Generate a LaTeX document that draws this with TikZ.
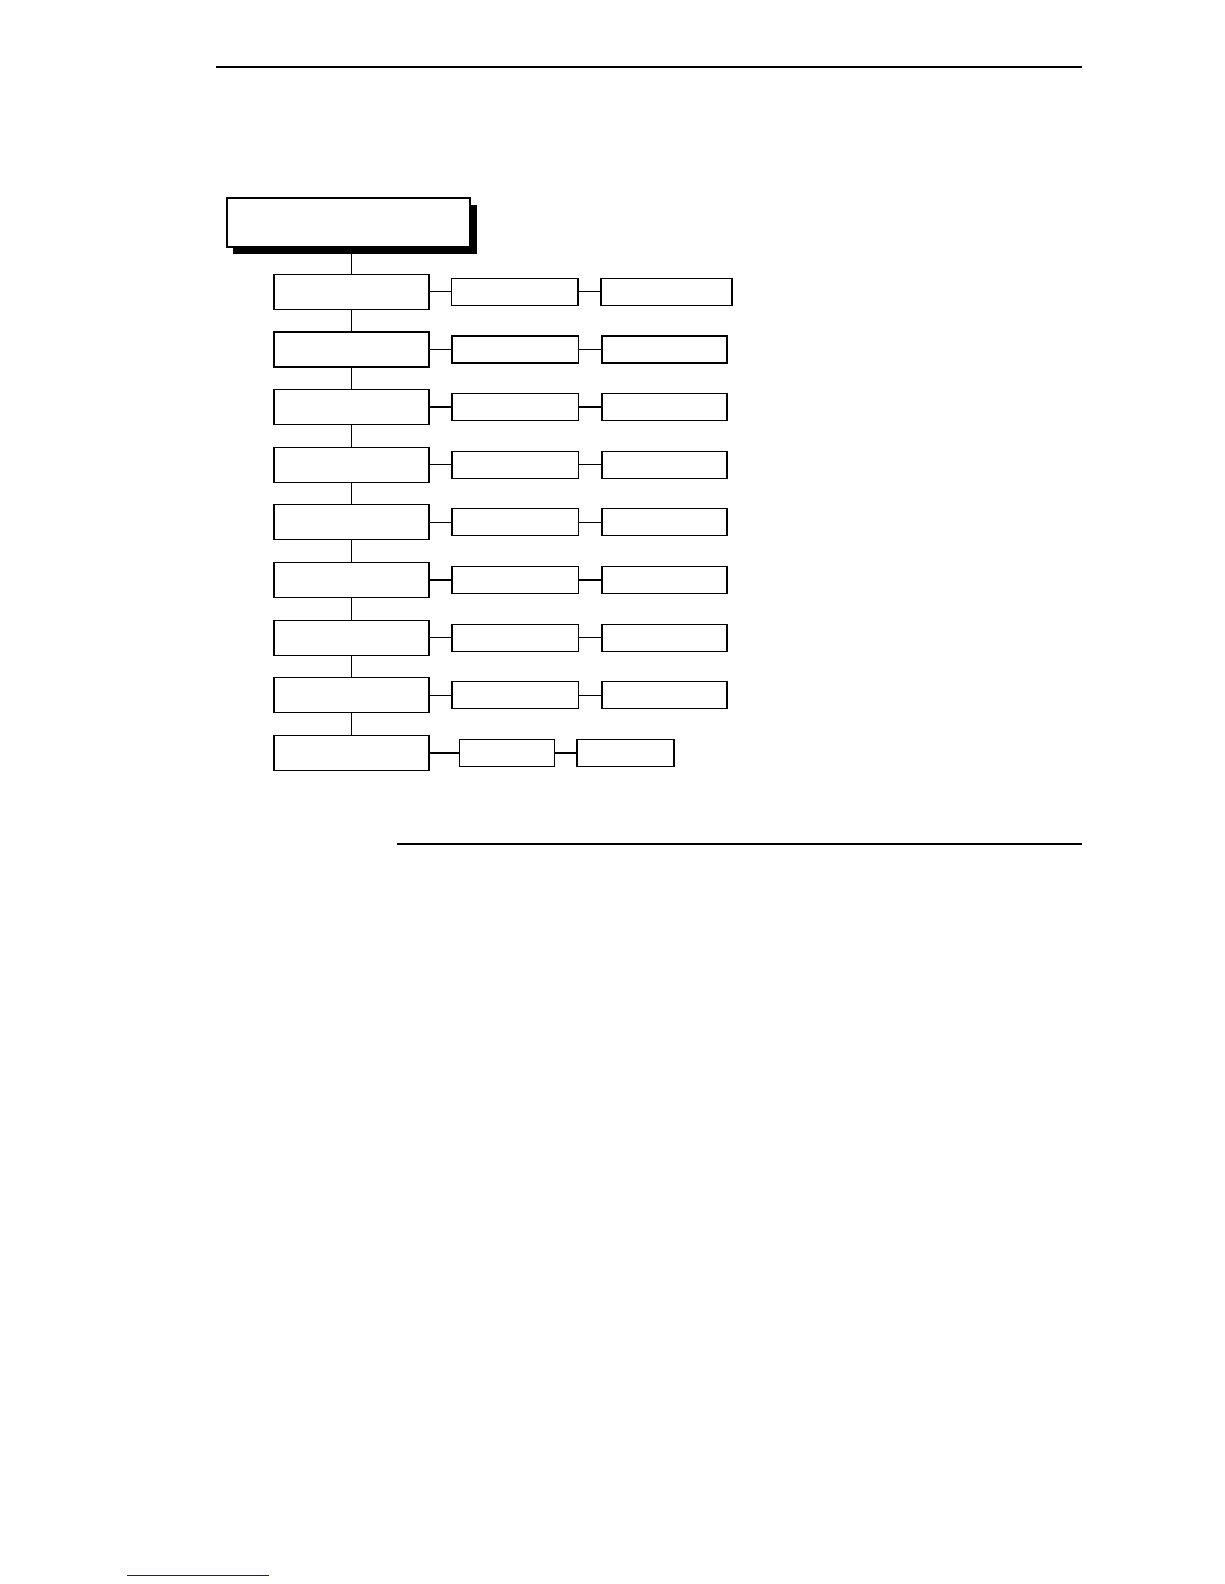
\documentclass[tikz,border=0pt]{standalone}
\definecolor{linkblue}{RGB}{25,25,135}
\begin{document}
\begin{tikzpicture}[x=1pt,y=-1pt,line width=1.3pt,
    menubox/.style={draw,fill=white,inner sep=0pt,minimum width=155pt,minimum height=35pt},
    optbox/.style={draw,fill=white,inner sep=0pt,minimum height=27pt}]
    \useasboundingbox (0,0) rectangle (1224,1584);
    %% page rules
    \draw[line width=2.2pt] (216,66.7) -- (1082,66.7);
    \draw (397,844) -- (1082,844);
    \draw[linkblue,line width=1pt] (127,1575) -- (269,1575);
    %% title box with shadow
    \fill (233,205) rectangle (477,254);
    \node[draw,fill=white,inner sep=0pt,minimum width=243pt,minimum height=49pt] (title) at (348.5,222.5) {};
    %% menu column
    \foreach \i in {1,...,9} {
        \node[menubox] (m\i) at (351.5,{291.7+57.66*(\i-1)}) {};
    }
    \draw (m1.north) -- (m1.north |- title.south);
    \foreach \i [count=\j from 2] in {1,...,8}
        \draw (m\i.south) -- (m\j.north);
    %% option boxes
    \foreach \i/\ax/\aw/\bx/\bw in {1/514.8/126.5/666.5/131,2/515.3/126.5/664.5/125,
        3/515.3/126.5/664.5/125,4/515.3/126.5/664.5/125,5/515.3/126.5/664.5/125,
        6/515.3/126.5/664.5/125,7/515.3/126.5/664.5/125,8/515.3/126.5/664.5/125,
        9/507/95/625.5/97} {
        \node[optbox,minimum width=\aw pt] (a\i) at (\ax,{291.7+57.66*(\i-1)}) {};
        \node[optbox,minimum width=\bw pt] (b\i) at (\bx,{291.7+57.66*(\i-1)}) {};
        \draw (m\i) -- (a\i);
        \draw (a\i) -- (b\i);
    }
\end{tikzpicture}
\end{document}
